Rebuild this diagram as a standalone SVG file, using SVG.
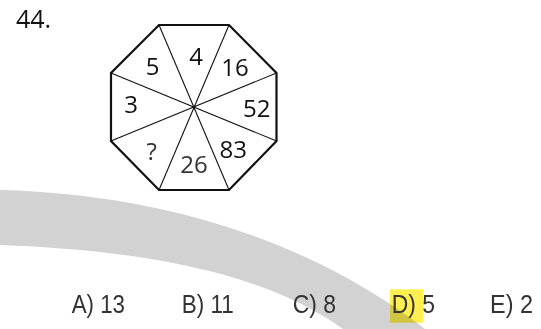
<svg xmlns="http://www.w3.org/2000/svg" width="541" height="329" viewBox="0 0 541 329">
<style>
.num{font-family:"Open Sans","Liberation Sans",sans-serif;font-size:24px;fill:#111;text-anchor:middle}
.opt{font-family:"Liberation Sans",Arial,sans-serif;font-size:26.5px;fill:#333}
.edge{fill:none;stroke:#111;stroke-width:2.2;stroke-linejoin:miter}
.spoke{stroke:#111;stroke-width:1.1}
</style>
<rect width="541" height="329" fill="#fff"/>
<rect id="highlight" x="390" y="289.3" width="33.3" height="33.4" fill="#fff050"/>
<path id="band" d="M0,190 C160,194 310,240 425,329 L343,329 C265,272 140,250 0,245 Z" fill="#d2d2d2" style="mix-blend-mode:multiply"/>
<text id="title" x="16" y="28.3" style="font-family:'Open Sans','Liberation Sans',sans-serif;font-size:25px;fill:#111">44.</text>
<g id="octagon">
<polygon class="edge" points="159,25 229,25 276.5,73 276.5,141 229,190 159,190 111,141 111,73"/>
</g>
<g id="connectors">
<line class="spoke" x1="159" y1="25" x2="229" y2="190"/>
<line class="spoke" x1="229" y1="25" x2="159" y2="190"/>
<line class="spoke" x1="276.5" y1="73" x2="111" y2="141"/>
<line class="spoke" x1="276.5" y1="141" x2="111" y2="73"/>
</g>
<g id="labels">
<text class="num" x="152.7" y="75">5</text>
<text class="num" x="196" y="65">4</text>
<text class="num" x="235" y="76">16</text>
<text class="num" x="131" y="113.3">3</text>
<text class="num" x="256.7" y="116.7">52</text>
<text class="num" x="151.7" y="160" style="fill:#333">?</text>
<text class="num" x="194" y="172.7" style="fill:#333">26</text>
<text class="num" x="233.3" y="158.3">83</text>
</g>
<g id="options">
<text class="opt" x="71.7" y="313.3" textLength="53.3" lengthAdjust="spacingAndGlyphs">A) 13</text>
<text class="opt" x="181.7" y="313.3" textLength="52" lengthAdjust="spacingAndGlyphs">B) 11</text>
<text class="opt" x="292.7" y="313.3" textLength="43.3" lengthAdjust="spacingAndGlyphs">C) 8</text>
<text class="opt" x="391.7" y="313.3" textLength="43.3" lengthAdjust="spacingAndGlyphs">D) 5</text>
<text class="opt" x="490" y="313.3" textLength="43" lengthAdjust="spacingAndGlyphs">E) 2</text>
</g>
</svg>
